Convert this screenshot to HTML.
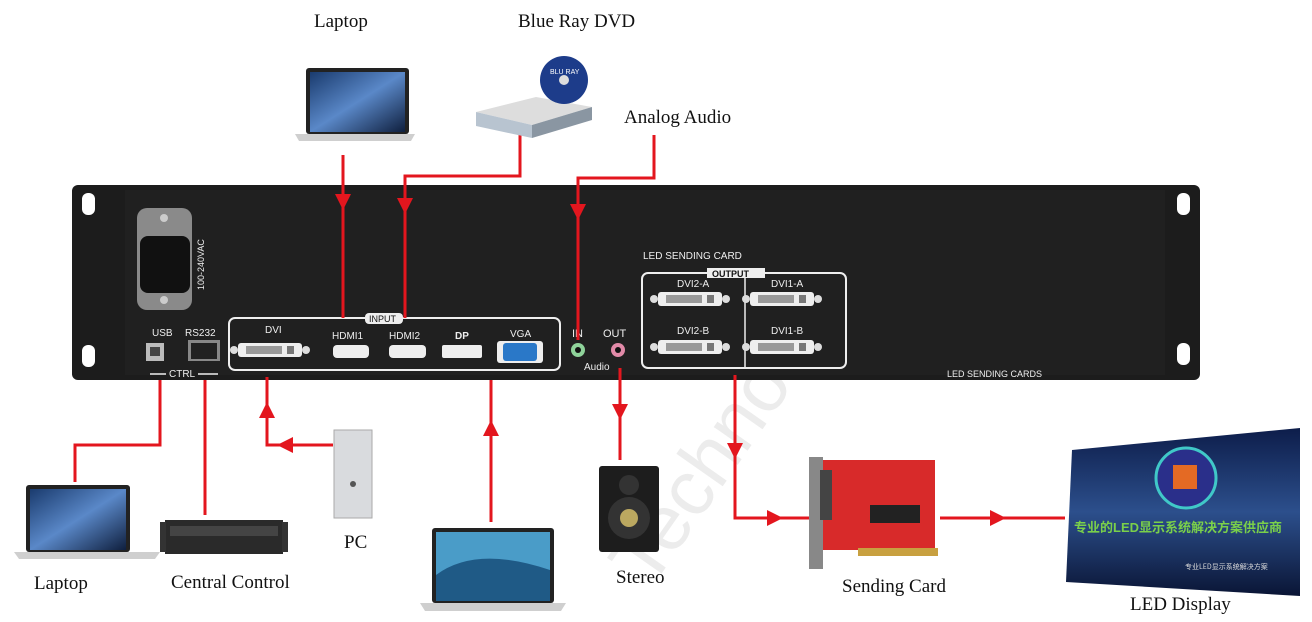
<!DOCTYPE html>
<html><head><meta charset="utf-8"><style>
html,body{margin:0;padding:0;background:#fff;}
svg{display:block;}
.lbl{font-family:"Liberation Serif",serif;font-size:19px;fill:#111;}
.w{font-family:"Liberation Sans",sans-serif;fill:#eee;}
</style></head><body>
<svg width="1312" height="622" viewBox="0 0 1312 622" xmlns="http://www.w3.org/2000/svg">
<defs>
<linearGradient id="scr" x1="0" y1="0" x2="1" y2="1"><stop offset="0" stop-color="#1a3b6e"/><stop offset="0.5" stop-color="#5a88c8"/><stop offset="1" stop-color="#0f1f3e"/></linearGradient>
<linearGradient id="led" x1="0" y1="0" x2="0" y2="1"><stop offset="0" stop-color="#0d1d4a"/><stop offset="0.5" stop-color="#2c4f8c"/><stop offset="1" stop-color="#0a1535"/></linearGradient>
<g id="dvi"><rect x="-32" y="-7" width="64" height="14" rx="3" fill="#eee"/><circle cx="-36" cy="0" r="4" fill="#ddd"/><circle cx="36" cy="0" r="4" fill="#ddd"/><rect x="-24" y="-4" width="36" height="8" fill="#999"/><rect x="17" y="-4" width="7" height="8" fill="#777"/></g>
</defs>
<!-- watermark -->
<text x="650" y="590" transform="rotate(-55 650 590)" font-family="Liberation Sans,sans-serif" font-size="78" fill="#ececec">Technology</text>

<!-- panel -->
<rect x="72" y="185" width="1128" height="195" rx="6" fill="#1c1c1c"/>
<rect x="125" y="190" width="1040" height="185" fill="#202020"/>
<rect x="82" y="193" width="13" height="22" rx="6" fill="#fff"/>
<rect x="82" y="345" width="13" height="22" rx="6" fill="#fff"/>
<rect x="1177" y="193" width="13" height="22" rx="6" fill="#fff"/>
<rect x="1177" y="343" width="13" height="22" rx="6" fill="#fff"/>
<!-- power -->
<rect x="137" y="208" width="55" height="102" rx="10" fill="#8a8a8a"/>
<rect x="140" y="236" width="50" height="57" rx="8" fill="#111"/>
<circle cx="164" cy="218" r="4" fill="#ccc"/><circle cx="164" cy="300" r="4" fill="#ccc"/>
<text x="0" y="0" transform="translate(204,290) rotate(-90)" class="w" font-size="9" fill="#aaa">100-240VAC</text>
<!-- usb rs232 -->
<text x="152" y="336" class="w" font-size="10">USB</text>
<text x="185" y="336" class="w" font-size="10">RS232</text>
<rect x="146" y="343" width="18" height="18" fill="#bbb"/><rect x="150" y="347" width="10" height="9" fill="#444"/>
<rect x="188" y="340" width="32" height="21" fill="#888"/><rect x="191" y="343" width="26" height="16" fill="#222"/>
<text x="169" y="377" class="w" font-size="10">CTRL</text>
<line x1="150" y1="374" x2="166" y2="374" stroke="#eee" stroke-width="1.5"/><line x1="198" y1="374" x2="218" y2="374" stroke="#eee" stroke-width="1.5"/>
<!-- input box -->
<rect x="229" y="318" width="331" height="52" rx="6" fill="none" stroke="#eee" stroke-width="2"/>
<rect x="365" y="313" width="38" height="11" rx="4" fill="#eee"/>
<text x="369" y="322" font-family="Liberation Sans,sans-serif" font-size="9" fill="#111">INPUT</text>
<text x="265" y="333" class="w" font-size="10">DVI</text>
<use href="#dvi" x="270" y="350"/>
<text x="332" y="339" class="w" font-size="10">HDMI1</text>
<rect x="333" y="345" width="36" height="13" rx="4" fill="#eee"/>
<text x="389" y="339" class="w" font-size="10">HDMI2</text>
<rect x="389" y="345" width="37" height="13" rx="4" fill="#eee"/>
<text x="455" y="339" class="w" font-size="10" font-weight="bold">DP</text>
<rect x="442" y="345" width="40" height="13" rx="2" fill="#eee"/>
<text x="510" y="337" class="w" font-size="10">VGA</text>
<rect x="497" y="341" width="46" height="22" rx="3" fill="#eee"/><rect x="503" y="343" width="34" height="18" rx="3" fill="#2a78c8"/>
<text x="572" y="337" class="w" font-size="11">IN</text>
<text x="603" y="337" class="w" font-size="11">OUT</text>
<circle cx="578" cy="350" r="7" fill="#8fd39a"/><circle cx="578" cy="350" r="3" fill="#111"/>
<circle cx="618" cy="350" r="7" fill="#e28aa8"/><circle cx="618" cy="350" r="3" fill="#111"/>
<text x="584" y="370" class="w" font-size="10">Audio</text>
<!-- output -->
<text x="643" y="259" class="w" font-size="10">LED SENDING CARD</text>
<rect x="642" y="273" width="204" height="95" rx="6" fill="none" stroke="#eee" stroke-width="2"/>
<line x1="745" y1="273" x2="745" y2="368" stroke="#eee" stroke-width="1.5"/>
<rect x="707" y="268" width="58" height="10" fill="#eee"/>
<text x="712" y="277" font-family="Liberation Sans,sans-serif" font-size="9" font-weight="bold" fill="#111">OUTPUT</text>
<text x="677" y="287" class="w" font-size="10">DVI2-A</text>
<text x="771" y="287" class="w" font-size="10">DVI1-A</text>
<text x="677" y="334" class="w" font-size="10">DVI2-B</text>
<text x="771" y="334" class="w" font-size="10">DVI1-B</text>
<use href="#dvi" x="690" y="299"/><use href="#dvi" x="782" y="299"/>
<use href="#dvi" x="690" y="347"/><use href="#dvi" x="782" y="347"/>
<text x="947" y="377" class="w" font-size="9" fill="#ccc">LED SENDING CARDS</text>

<!-- connectors -->
<g stroke="#e3161e" stroke-width="3" fill="none">
<path d="M343 155V318"/>
<path d="M520 135V176H405V318"/>
<path d="M654 135V178H578V340"/>
<path d="M160 380V445H75V482"/>
<path d="M205 380V515"/>
<path d="M267 377V445H333"/>
<path d="M491 380V522"/>
<path d="M620 368V460"/>
<path d="M735 375V518H810"/>
<path d="M940 518H1065"/>
</g>
<g fill="#e3161e">
<path d="M335 194h16l-8 16z"/><path d="M397 198h16l-8 16z"/><path d="M570 204h16l-8 16z"/>
<path d="M259 418h16l-8-16z"/><path d="M293 437v16l-16-8z"/>
<path d="M483 436h16l-8-16z"/><path d="M612 404h16l-8 16z"/>
<path d="M727 443h16l-8 16z"/><path d="M767 510v16l16-8z"/><path d="M990 510v16l16-8z"/>
</g>

<!-- top laptop -->
<rect x="306" y="68" width="103" height="66" rx="3" fill="#222"/><rect x="310" y="72" width="95" height="60" fill="url(#scr)"/>
<path d="M295 134h120l-4 7h-112z" fill="#cfcfcf"/>
<!-- blu-ray -->
<path d="M476 112l60-15 56 10-60 18z" fill="#ddd"/><path d="M476 112l56 13v13l-56-12z" fill="#b8c4d0"/><path d="M532 125l60-18v13l-60 18z" fill="#8a96a2"/>
<circle cx="564" cy="80" r="24" fill="#1d3c8a"/><circle cx="564" cy="80" r="5" fill="#ddd"/>
<text x="550" y="74" font-family="Liberation Sans,sans-serif" font-size="7" fill="#fff">BLU RAY</text>
<!-- bottom-left laptop -->
<rect x="26" y="485" width="104" height="67" rx="3" fill="#222"/><rect x="30" y="489" width="96" height="61" fill="url(#scr)"/>
<path d="M14 552h146l-5 7h-136z" fill="#cfcfcf"/>
<!-- central control -->
<rect x="165" y="520" width="118" height="34" fill="#2a2a2a"/><rect x="170" y="526" width="108" height="10" fill="#444"/><rect x="160" y="522" width="6" height="30" fill="#333"/><rect x="282" y="522" width="6" height="30" fill="#333"/>
<!-- PC -->
<rect x="334" y="430" width="38" height="88" fill="#d9dbde" stroke="#aaa"/><circle cx="353" cy="484" r="3" fill="#555"/>
<!-- bottom laptop -->
<rect x="432" y="528" width="122" height="75" rx="3" fill="#222"/><rect x="436" y="532" width="114" height="69" fill="#4a9cc8"/>
<path d="M436 575q40-30 114-5v31h-114z" fill="#1f5a86"/>
<path d="M420 603h146l-5 8h-136z" fill="#cfcfcf"/>
<!-- speaker -->
<rect x="599" y="466" width="60" height="86" rx="3" fill="#1d1d1d"/><circle cx="629" cy="518" r="21" fill="#333"/><circle cx="629" cy="518" r="9" fill="#bba860"/><circle cx="629" cy="485" r="10" fill="#333"/>
<!-- sending card -->
<path d="M815 460h120v90h-120z" fill="#d82a2a"/><rect x="809" y="457" width="14" height="112" fill="#888"/>
<rect x="858" y="548" width="80" height="8" fill="#c8a040"/><rect x="870" y="505" width="50" height="18" fill="#222"/>
<rect x="820" y="470" width="12" height="50" fill="#444"/>
<!-- LED display -->
<path d="M1072 450l228-22v168l-234-14z" fill="url(#led)"/>
<circle cx="1186" cy="478" r="30" fill="#2a2f8a" stroke="#40c8c8" stroke-width="3"/>
<rect x="1173" y="465" width="24" height="24" fill="#e46a24"/>
<text x="1074" y="532" font-family="Liberation Sans,'Noto Sans CJK SC',sans-serif" font-size="13" font-weight="bold" fill="#7ad04a">专业的LED显示系统解决方案供应商</text>
<text x="1185" y="569" font-family="'Noto Sans CJK SC',sans-serif" font-size="7" fill="#ddd">专业LED显示系统解决方案</text>

<!-- labels -->
<text x="314" y="27" class="lbl">Laptop</text>
<text x="518" y="27" class="lbl">Blue Ray DVD</text>
<text x="624" y="123" class="lbl">Analog  Audio</text>
<text x="34" y="589" class="lbl">Laptop</text>
<text x="171" y="588" class="lbl">Central Control</text>
<text x="344" y="548" class="lbl">PC</text>
<text x="616" y="583" class="lbl">Stereo</text>
<text x="842" y="592" class="lbl">Sending Card</text>
<text x="1130" y="610" class="lbl">LED Display</text>
</svg>
</body></html>
